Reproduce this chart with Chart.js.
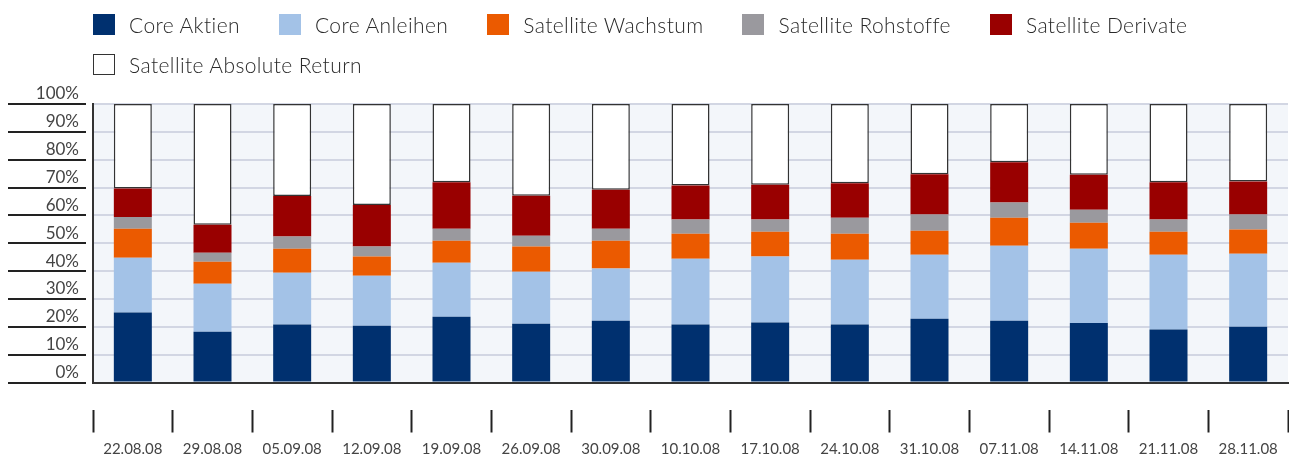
<!DOCTYPE html>
<html lang="de">
<head>
<meta charset="utf-8">
<title>Portfolio-Struktur</title>
<script src="https://cdn.jsdelivr.net/npm/chart.js@4/dist/chart.umd.min.js"></script>
<style>
  html, body { margin: 0; padding: 0; background: #ffffff; }
  #wrap { position: relative; width: 1289px; height: 458px; overflow: hidden; }
  #chart { position: absolute; left: 0; top: 0; }
  #legend {
    position: absolute; left: 93px; top: 14px; width: 1190px;
    display: flex; flex-wrap: wrap; row-gap: 19px; column-gap: 39px;
    font-family: Lato, "Liberation Sans", sans-serif; font-weight: 300;
    font-size: 21px; letter-spacing: 0.4px; color: #2a2a2a;
  }
  .item { display: flex; align-items: center; height: 21px; white-space: nowrap; }
  .swatch { width: 22px; height: 21px; margin-right: 14px; box-sizing: border-box; }
</style>
</head>
<body>
<div id="wrap">
  <canvas id="chart" width="1289" height="458"></canvas>
  <div id="legend"></div>
</div>
<script>
// Reporting dates
const dates = ['22.08.08', '29.08.08', '05.09.08', '12.09.08', '19.09.08', '26.09.08', '30.09.08',
  '10.10.08', '17.10.08', '24.10.08', '31.10.08', '07.11.08', '14.11.08', '21.11.08', '28.11.08'];

// Allocation shares in percent per building block
const coreAktien         = [25.1, 18.2, 20.8, 20.4, 23.6, 21.1, 22.2, 20.8, 21.5, 20.8, 22.9, 22.2, 21.4, 19.0, 20.0];
const coreAnleihen       = [19.7, 17.3, 18.6, 17.9, 19.4, 18.7, 18.7, 23.6, 23.7, 23.3, 23.0, 26.9, 26.6, 26.9, 26.2];
const satWachstum        = [10.4,  7.9,  8.6,  6.9,  7.9,  9.0, 10.0,  9.0,  8.9,  9.3,  8.6, 10.1,  9.4,  8.2,  8.7];
const satRohstoffe       = [ 4.2,  3.2,  4.4,  3.6,  4.3,  3.9,  4.3,  5.1,  4.4,  5.8,  5.8,  5.4,  4.6,  4.4,  5.4];
const satDerivate        = [10.3, 10.0, 14.6, 14.9, 16.7, 14.4, 14.0, 12.2, 12.5, 12.3, 14.5, 14.5, 12.6, 13.4, 11.9];
const satAbsoluteReturn  = [30.3, 43.4, 33.0, 36.3, 28.1, 32.9, 30.8, 29.3, 29.0, 28.5, 25.2, 20.9, 25.4, 28.1, 27.8];

// Value axis ticks
const yTicks = [0, 10, 20, 30, 40, 50, 60, 70, 80, 90, 100];

const series = [
  { label: 'Core Aktien', data: coreAktien, color: '#00306f' },
  { label: 'Core Anleihen', data: coreAnleihen, color: '#a3c2e7' },
  { label: 'Satellite Wachstum', data: satWachstum, color: '#eb5a00' },
  { label: 'Satellite Rohstoffe', data: satRohstoffe, color: '#9a999e' },
  { label: 'Satellite Derivate', data: satDerivate, color: '#990000' },
  { label: 'Satellite Absolute Return', data: satAbsoluteReturn, color: '#ffffff', border: '#333333' }
];

const FONT = 'Lato, "Liberation Sans", sans-serif';

// Light plot background behind the grid
const plotBackground = {
  id: 'plotBackground',
  beforeDraw(chart) {
    const { ctx, chartArea: a } = chart;
    ctx.save();
    ctx.fillStyle = '#f3f6fa';
    ctx.fillRect(a.left, a.top, a.right - a.left, a.bottom - a.top);
    ctx.restore();
  }
};

const chart = new Chart(document.getElementById('chart'), {
  type: 'bar',
  data: {
    labels: dates,
    datasets: series.map(s => ({
      label: s.label,
      data: s.data,
      backgroundColor: s.color,
      borderColor: s.border || s.color,
      borderWidth: s.border ? 1.5 : 0,
      borderSkipped: false,
      categoryPercentage: 1,
      barPercentage: 0.477
    }))
  },
  options: {
    responsive: false,
    animation: false,
    layout: { padding: { top: 104, right: 1, left: 0, bottom: 0 } },
    plugins: {
      legend: { display: false },
      tooltip: { enabled: false }
    },
    scales: {
      x: {
        stacked: true,
        offset: true,
        afterFit(scale) { scale.height = 75.5; },
        grid: {
          offset: true,
          drawOnChartArea: false,
          drawTicks: true,
          tickLength: 50,
          tickColor: '#222222',
          tickWidth: 2,
          tickBorderDash: [24, 26],
          tickBorderDashOffset: 24
        },
        border: { display: true, color: '#333333', width: 2 },
        ticks: {
          padding: 8,
          color: '#444444',
          font: { family: FONT, size: 15 },
          maxRotation: 0,
          autoSkip: false
        }
      },
      y: {
        stacked: true,
        min: 0,
        max: 100,
        afterFit(scale) { scale.width = 93; },
        afterBuildTicks(scale) { scale.ticks = yTicks.map(v => ({ value: v })); },
        grid: {
          color: '#d2d6e3',
          lineWidth: 2,
          drawTicks: true,
          tickLength: 85,
          tickColor: '#222222',
          tickWidth: 2,
          tickBorderDash: [78, 200]
        },
        border: { display: true, color: '#333333', width: 2 },
        ticks: {
          padding: -71,
          labelOffset: -10,
          color: '#444444',
          font: { family: FONT, size: 17 },
          callback: v => v + '%'
        }
      }
    }
  },
  plugins: [plotBackground]
});

// Legend built from the datasets
const legend = document.getElementById('legend');
chart.data.datasets.forEach(ds => {
  const item = document.createElement('div');
  item.className = 'item';
  const sw = document.createElement('span');
  sw.className = 'swatch';
  sw.style.background = ds.backgroundColor;
  if (ds.borderWidth) sw.style.border = '1.5px solid ' + ds.borderColor;
  const txt = document.createElement('span');
  txt.textContent = ds.label;
  item.appendChild(sw);
  item.appendChild(txt);
  legend.appendChild(item);
});
</script>
</body>
</html>
